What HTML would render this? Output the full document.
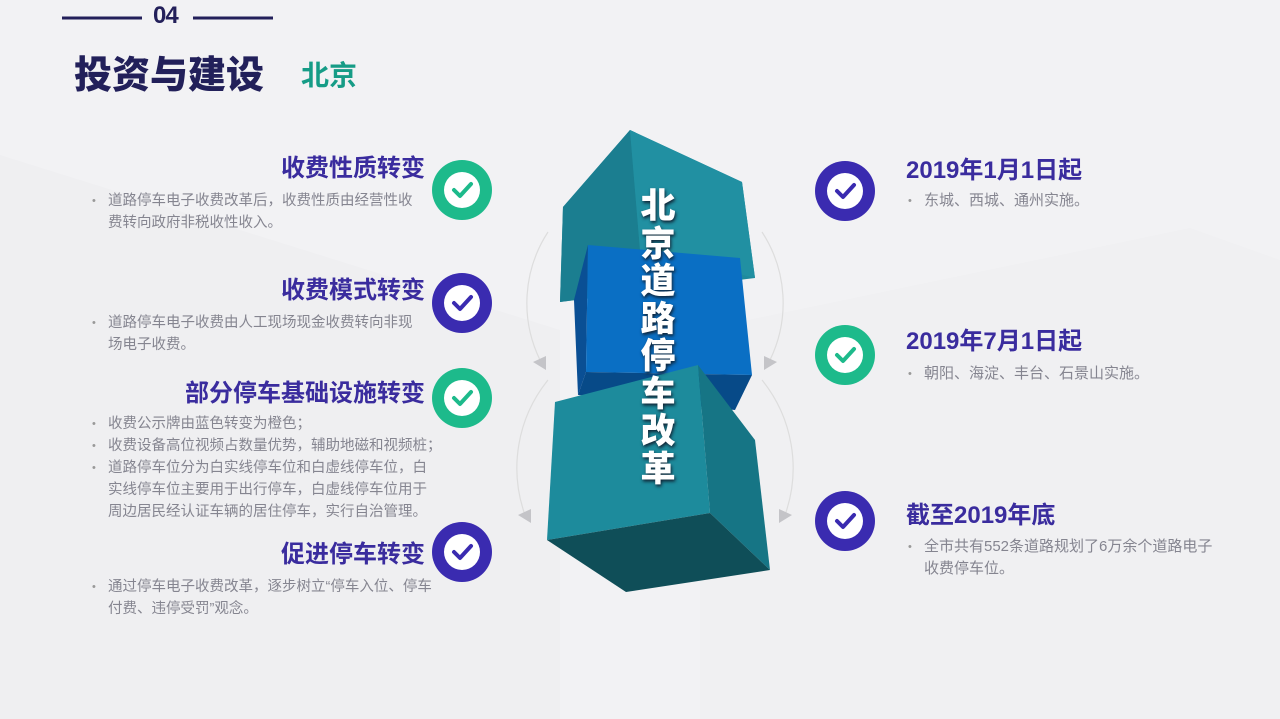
<!DOCTYPE html>
<html><head><meta charset="utf-8"><style>
*{margin:0;padding:0;box-sizing:border-box}
body{width:1280px;height:719px;overflow:hidden;background:#f2f2f4;position:relative;font-family:"Liberation Sans","Noto Sans CJK SC",sans-serif}
.a{position:absolute}
.t{position:absolute;font-weight:bold;color:#3a2c9e;font-size:24px;white-space:nowrap}
.tl{text-align:right;right:855px}
.p{position:absolute;font-size:14.5px;color:#858590;line-height:22px}
.pr{font-size:15px}
.p div{position:relative;padding-left:16px}
.p div.b:before{content:"•";position:absolute;left:0;font-size:11px;color:#999}
</style></head><body>
<svg class="a" style="left:0;top:0" width="1280" height="719">
<polygon points="0,155 560,330 560,719 0,719" fill="#efeff1"/>
<polygon points="700,330 1190,228 1280,260 1280,719 700,719" fill="#f0f0f2"/>
<line x1="62" y1="18" x2="142" y2="18" stroke="#23205a" stroke-width="3"/>
<line x1="193" y1="18" x2="273" y2="18" stroke="#23205a" stroke-width="3"/>
<g fill="none" stroke="#ddd" stroke-width="1.2">
<path d="M548,232 A130,130 0 0 0 540,360"/>
<path d="M548,380 A140,140 0 0 0 525,515"/>
<path d="M762,232 A130,130 0 0 1 770,360"/>
<path d="M762,380 A140,140 0 0 1 785,515"/>
</g>
<g fill="#c4c4c8">
<polygon points="533,362 546,356 546,370"/>
<polygon points="518,515 531,509 531,523"/>
<polygon points="777,362 764,356 764,370"/>
<polygon points="792,515 779,509 779,523"/>
</g>
<polygon points="563,207 630,130 742,182 755,278 560,302" fill="#1f8a9c"/>
<polygon points="563,207 630,130 640,250 575,300 560,302" fill="#1b7e90"/>
<polygon points="630,130 742,182 755,278 640,250" fill="#2190a2"/>
<polygon points="574,300 588,245 586,372 578,395" fill="#0a4f94"/>
<polygon points="588,245 740,258 752,375 586,372" fill="#0a6fc4"/>
<polygon points="586,372 752,375 735,410 578,395" fill="#074a88"/>
<polygon points="555,402 698,365 710,513 547,540" fill="#1d8b9c"/>
<polygon points="698,365 755,440 770,570 710,513" fill="#167585"/>
<polygon points="547,540 710,513 770,570 626,592" fill="#0f4e58"/>
<g>
<circle cx="462" cy="190" r="30" fill="#1dba8b"/><circle cx="462" cy="190" r="18" fill="#fff"/><polyline points="454,190 460,196 471,184" fill="none" stroke="#1dba8b" stroke-width="4" stroke-linecap="round" stroke-linejoin="round"/>
<circle cx="462" cy="303" r="30" fill="#3a2bb0"/><circle cx="462" cy="303" r="18" fill="#fff"/><polyline points="454,303 460,309 471,297" fill="none" stroke="#3a2bb0" stroke-width="4" stroke-linecap="round" stroke-linejoin="round"/>
<circle cx="462" cy="398" r="30" fill="#1dba8b"/><circle cx="462" cy="398" r="18" fill="#fff"/><polyline points="454,398 460,404 471,392" fill="none" stroke="#1dba8b" stroke-width="4" stroke-linecap="round" stroke-linejoin="round"/>
<circle cx="462" cy="552" r="30" fill="#3a2bb0"/><circle cx="462" cy="552" r="18" fill="#fff"/><polyline points="454,552 460,558 471,546" fill="none" stroke="#3a2bb0" stroke-width="4" stroke-linecap="round" stroke-linejoin="round"/>
<circle cx="845" cy="191" r="30" fill="#3a2bb0"/><circle cx="845" cy="191" r="18" fill="#fff"/><polyline points="837,191 843,197 854,185" fill="none" stroke="#3a2bb0" stroke-width="4" stroke-linecap="round" stroke-linejoin="round"/>
<circle cx="845" cy="355" r="30" fill="#1dba8b"/><circle cx="845" cy="355" r="18" fill="#fff"/><polyline points="837,355 843,361 854,349" fill="none" stroke="#1dba8b" stroke-width="4" stroke-linecap="round" stroke-linejoin="round"/>
<circle cx="845" cy="521" r="30" fill="#3a2bb0"/><circle cx="845" cy="521" r="18" fill="#fff"/><polyline points="837,521 843,527 854,515" fill="none" stroke="#3a2bb0" stroke-width="4" stroke-linecap="round" stroke-linejoin="round"/>
</g>
</svg>
<div class="a" style="left:153px;top:2px;font-size:24px;font-weight:bold;color:#23205a;letter-spacing:-1px">04</div>
<div class="a" style="left:74px;top:44px;font-size:38px;font-weight:900;color:#22205a">投资与建设</div>
<div class="a" style="left:301px;top:54px;font-size:28px;font-weight:bold;color:#169c86">北京</div>
<div class="a" style="left:637px;top:188px;width:42px;font-size:35px;line-height:37.5px;font-weight:900;color:#fff;text-align:center;text-shadow:1px 2px 3px #123">北京道路停车改革</div>

<div class="t tl" style="top:148px">收费性质转变</div>
<div class="p" style="left:92px;top:190px;width:328px"><div class="b">道路停车电子收费改革后，收费性质由经营性收费转向政府非税收性收入。</div></div>
<div class="t tl" style="top:270px">收费模式转变</div>
<div class="p" style="left:92px;top:312px;width:328px"><div class="b">道路停车电子收费由人工现场现金收费转向非现场电子收费。</div></div>
<div class="t tl" style="top:373px">部分停车基础设施转变</div>
<div class="p" style="left:92px;top:413px;width:370px"><div class="b">收费公示牌由蓝色转变为橙色；</div><div class="b">收费设备高位视频占数量优势，辅助地磁和视频桩；</div><div class="b" style="width:343px">道路停车位分为白实线停车位和白虚线停车位，白实线停车位主要用于出行停车，白虚线停车位用于周边居民经认证车辆的居住停车，实行自治管理。</div></div>
<div class="t tl" style="top:534px">促进停车转变</div>
<div class="p" style="left:92px;top:576px;width:352px"><div class="b">通过停车电子收费改革，逐步树立“停车入位、停车付费、违停受罚”观念。</div></div>

<div class="t" style="left:906px;top:150px">2019年1月1日起</div>
<div class="p pr" style="left:908px;top:190px;width:330px"><div class="b">东城、西城、通州实施。</div></div>
<div class="t" style="left:906px;top:321px">2019年7月1日起</div>
<div class="p pr" style="left:908px;top:363px;width:330px"><div class="b">朝阳、海淀、丰台、石景山实施。</div></div>
<div class="t" style="left:906px;top:495px">截至2019年底</div>
<div class="p pr" style="left:908px;top:536px;width:318px"><div class="b">全市共有552条道路规划了6万余个道路电子收费停车位。</div></div>
</body></html>
